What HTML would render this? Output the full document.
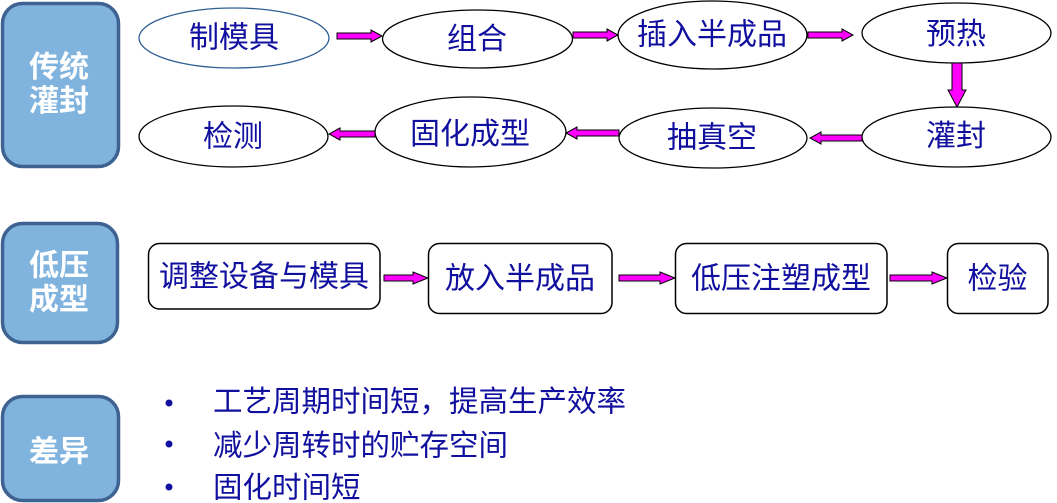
<!DOCTYPE html>
<html>
<head>
<meta charset="utf-8">
<style>
html,body{margin:0;padding:0;background:#fff;}
svg{display:block;}
.t{font-family:"Liberation Sans","Noto Sans CJK SC",sans-serif;font-size:30px;fill:#11109e;text-anchor:middle;dominant-baseline:central;}
.w{font-family:"Liberation Sans","Noto Sans CJK SC",sans-serif;font-size:30px;font-weight:bold;fill:#fff;text-anchor:middle;dominant-baseline:central;}
.b{font-family:"Liberation Sans","Noto Sans CJK SC",sans-serif;font-size:29.5px;fill:#11109e;dominant-baseline:central;}
.e{fill:#fff;stroke:#000;stroke-width:1.3;}
.r{fill:#fff;stroke:#000;stroke-width:1.5;}
.a{fill:#ff00ff;stroke:#000;stroke-width:1;}
.box{fill:#80b4df;stroke:#3e6291;stroke-width:3.5;}
</style>
</head>
<body>
<svg width="1057" height="503" viewBox="0 0 1057 503" xmlns="http://www.w3.org/2000/svg">
<!-- left label boxes -->
<rect class="box" x="2.5" y="3.5" width="116" height="163" rx="20"/>
<text class="w" x="59" y="67.5">传统</text>
<text class="w" x="59" y="101.5">灌封</text>

<rect class="box" x="2.5" y="223.5" width="115" height="119" rx="20"/>
<text class="w" x="59" y="266">低压</text>
<text class="w" x="59" y="300">成型</text>

<rect class="box" x="2.5" y="396.5" width="116" height="104" rx="20"/>
<text class="w" x="59" y="452">差异</text>

<!-- top row ellipses -->
<ellipse cx="234" cy="38" rx="95" ry="30" fill="#fff" stroke="#2f5f93" stroke-width="1.3"/>
<text class="t" x="234" y="38">制模具</text>

<ellipse class="e" cx="477.5" cy="39" rx="95" ry="29"/>
<text class="t" x="477" y="39.5">组合</text>

<ellipse class="e" cx="712.5" cy="35" rx="94.5" ry="34"/>
<text class="t" x="712" y="35">插入半成品</text>

<ellipse class="e" cx="956.5" cy="33" rx="94.5" ry="30"/>
<text class="t" x="956" y="34.5">预热</text>

<!-- second row ellipses -->
<ellipse class="e" cx="956.5" cy="137" rx="94.5" ry="30"/>
<text class="t" x="956" y="136.5">灌封</text>

<ellipse class="e" cx="713" cy="138" rx="94" ry="30"/>
<text class="t" x="712" y="138">抽真空</text>

<ellipse class="e" cx="470.5" cy="132" rx="95.5" ry="35"/>
<text class="t" x="470" y="134.5">固化成型</text>

<ellipse class="e" cx="233.5" cy="136.5" rx="94.5" ry="30.5"/>
<text class="t" x="233" y="137">检测</text>

<!-- top row arrows (right) -->
<polygon class="a" points="337,33 371,33 371,30 382,36 371,42 371,39 337,39"/>
<polygon class="a" points="573,32 607,32 607,29 618,35 607,41 607,38 573,38"/>
<polygon class="a" points="808,32 842,32 842,29 853,35 842,41 842,38 808,38"/>
<!-- down arrow -->
<polygon class="a" points="952,63 962,63 962,90 966,90 957,107 948,90 952,90"/>
<!-- second row arrows (left) -->
<polygon class="a" points="862,135 821,135 821,132 810,138 821,144 821,141 862,141"/>
<polygon class="a" points="619,130 577,130 577,127 566,133 577,139 577,136 619,136"/>
<polygon class="a" points="375,131 340,131 340,128 329,134 340,140 340,137 375,137"/>

<!-- low pressure row -->
<rect class="r" x="148.5" y="243.5" width="231.5" height="65.5" rx="11"/>
<text class="t" x="264" y="277">调整设备与模具</text>

<rect class="r" x="428.5" y="243.5" width="183.5" height="70" rx="11"/>
<text class="t" x="520" y="279">放入半成品</text>

<rect class="r" x="675.5" y="243.5" width="211.5" height="70" rx="11"/>
<text class="t" x="781" y="279">低压注塑成型</text>

<rect class="r" x="947.5" y="243.5" width="100.5" height="70" rx="11"/>
<text class="t" x="997.5" y="279">检验</text>

<polygon class="a" points="384,275 413,275 413,272 428,278 413,284 413,281 384,281"/>
<polygon class="a" points="619,275 660,275 660,272 675,278 660,284 660,281 619,281"/>
<polygon class="a" points="890,275 932,275 932,272 947,278 932,284 932,281 890,281"/>

<!-- bullets -->
<circle cx="169" cy="403" r="3.5" fill="#11109e"/>
<circle cx="169" cy="444" r="3.5" fill="#11109e"/>
<circle cx="169" cy="487" r="3.5" fill="#11109e"/>
<text class="b" x="213" y="402">工艺周期时间短，提高生产效率</text>
<text class="b" x="213" y="446">减少周转时的贮存空间</text>
<text class="b" x="213" y="488">固化时间短</text>
</svg>
</body>
</html>
